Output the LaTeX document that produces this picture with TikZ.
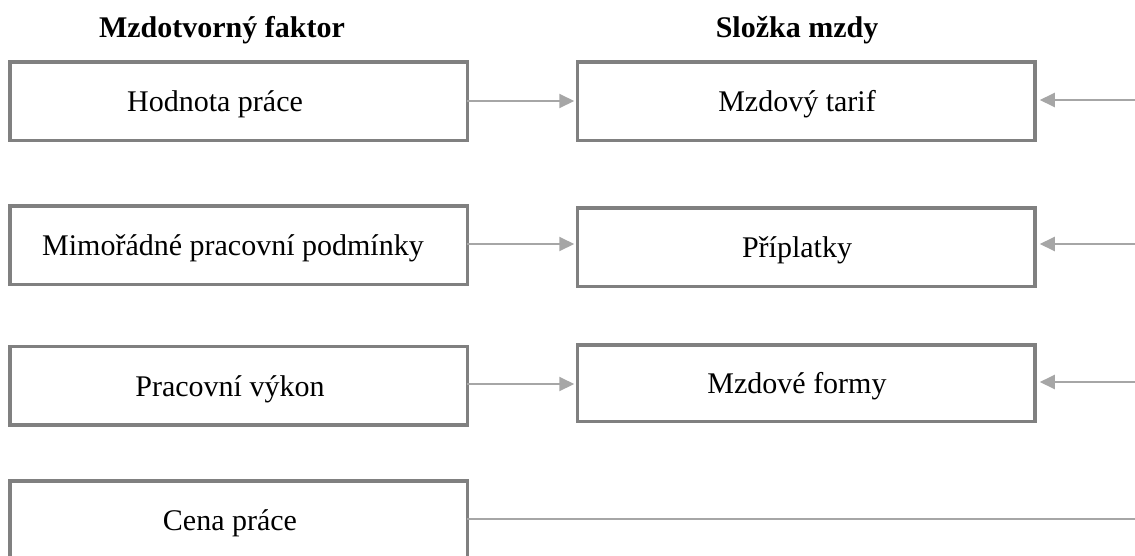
\documentclass[tikz,border=0pt]{standalone}
\usepackage{fontspec}
\setmainfont{Liberation Serif}
\usetikzlibrary{arrows.meta}
\definecolor{boxgray}{HTML}{808080}
\definecolor{arrgray}{HTML}{A6A6A6}
\tikzset{
  box/.style={draw=boxgray, line width=3.5pt, minimum width=457.5pt, minimum height=78.5pt, inner sep=0pt, outer sep=0pt},
  txt/.style={font=\fontsize{30}{36}\selectfont, inner sep=0pt, text height=21pt, text depth=0pt, anchor=center},
  ttl/.style={font=\fontsize{30}{36}\selectfont\bfseries, inner sep=0pt, anchor=base},
  arr/.style={draw=arrgray, line width=2pt, -{Triangle[length=15pt,width=14pt]}},
  ln/.style={draw=arrgray, line width=2pt}
}
\begin{document}
\begin{tikzpicture}[x=1pt,y=-1pt]
\useasboundingbox (0,0) rectangle (1135,555);
\clip (0,0) rectangle (1135,555);
% titles
\node[ttl] (h1) at (222,37) {Mzdotvorný faktor};
\node[ttl] (h2) at (797,37) {Složka mzdy};
% left boxes
\node[box] (l1) at (238.5,101) {};
\node[box] (l2) at (238.5,245) {};
\node[box] (l3) at (238.5,385.5) {};
\node[box] (l4) at (238.5,520) {};
\node[txt] (tl1) at (215,101) {Hodnota práce};
\node[txt] (tl2) at (233,245) {Mimořádné pracovní podmínky};
\node[txt] (tl3) at (230,385.5) {Pracovní výkon};
\node[txt] (tl4) at (230,520) {Cena práce};
% right boxes
\node[box] (r1) at (806,101) {};
\node[box] (r2) at (806,247) {};
\node[box, minimum height=76.5pt] (r3) at (806,383) {};
\node[txt] (tr1) at (797,101) {Mzdový tarif};
\node[txt] (tr2) at (797,247) {Příplatky};
\node[txt] (tr3) at (797,383) {Mzdové formy};
% left-to-right arrows
\draw[arr, shorten >=3pt] (l1.east) -- (l1.east -| r1.west);
\draw[arr, shorten >=3pt] ([yshift=1pt]l2.east) -- ([yshift=1pt]l2.east -| r2.west);
\draw[arr, shorten >=3pt] ([yshift=1.5pt]l3.east) -- ([yshift=1.5pt]l3.east -| r3.west);
% arrows from the right edge
\coordinate (e1) at (1135,100);
\coordinate (e2) at (1135,244);
\coordinate (e3) at (1135,382);
\coordinate (e4) at (1135,519);
\draw[arr, shorten >=5pt] (e1) -- (e1 -| r1.east);
\draw[arr, shorten >=5pt] (e2) -- (e2 -| r2.east);
\draw[arr, shorten >=5pt] (e3) -- (e3 -| r3.east);
\draw[ln] (l4.east |- e4) -- (e4);
\end{tikzpicture}
\end{document}
